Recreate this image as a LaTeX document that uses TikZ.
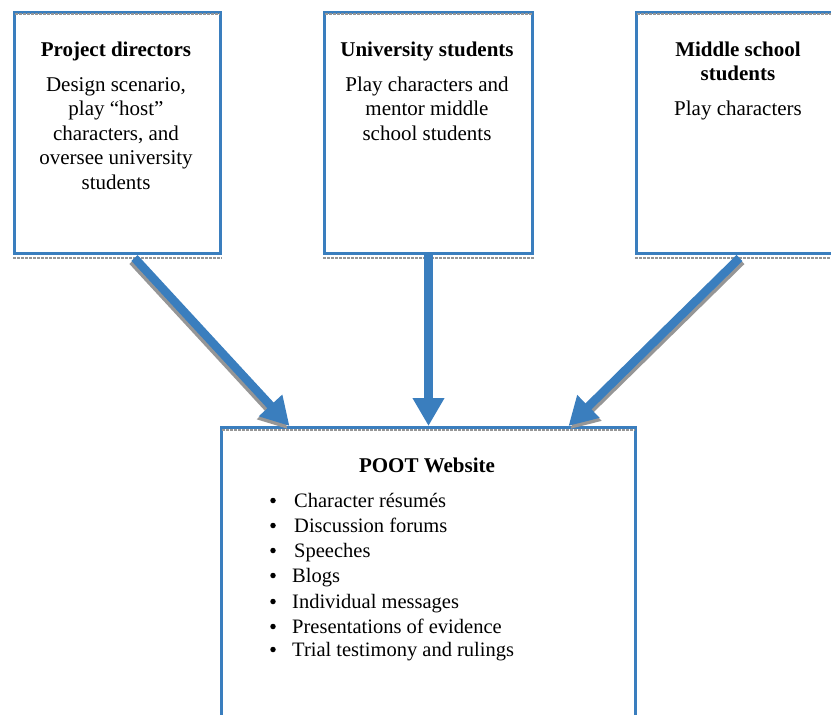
\documentclass[tikz,border=0pt]{standalone}
\usepackage{fontspec}
\setmainfont{Liberation Serif}
\usetikzlibrary{arrows.meta,calc}
\definecolor{boxblue}{RGB}{58,126,190}
\definecolor{shade}{RGB}{150,150,150}
\begin{document}
\begin{tikzpicture}[x=1pt,y=-1pt,
  box/.style={draw=boxblue, fill=white, line width=3pt, rectangle, inner sep=0pt, anchor=north west},
  dashline/.style={draw=shade, line width=2.5pt, dash pattern=on 3pt off 1pt},
  arr/.style={draw=boxblue, line width=8.5pt, -{Triangle[width=30pt,length=28pt]}},
  arrshadow/.style={draw=shade, line width=8.5pt, -{Triangle[width=30pt,length=28pt]}},
  txt/.style={font=\fontsize{21}{24}\selectfont, inner sep=0pt, anchor=base},
  ttl/.style={font=\fontsize{21}{24}\selectfont\bfseries, inner sep=0pt, anchor=base},
  item/.style={font=\fontsize{20.5}{24}\selectfont, inner sep=0pt, anchor=base west},
  bul/.style={circle, fill=black, inner sep=0pt, minimum size=5.5pt}
]
\useasboundingbox (0,0) rectangle (831,715);
\clip (0,0) rectangle (831,715);

% boxes
\node[box, minimum width=206pt, minimum height=241pt] (pd) at (13,11) {};
\node[box, minimum width=208pt, minimum height=241pt] (us) at (323,11) {};
\node[box, minimum width=206pt, minimum height=241pt] (ms) at (635,11) {};
\node[box, minimum width=414pt, minimum height=310pt] (web) at (220,426) {};

% shadow dashes
\foreach \b in {pd,us,ms}{
  \draw[dashline] ($(\b.north west)+(2,3.2)$) -- ($(\b.north east)+(-2,3.2)$);
  \draw[dashline] ($(\b.south west)+(0,3.2)$) -- ($(\b.south east)+(0,3.2)$);
}
\draw[dashline] ($(web.north west)+(2,4)$) -- ($(web.north east)+(-2,4)$);

% arrows
\coordinate (a1s) at ($(pd.south)+(17,3)$);
\coordinate (a1e) at ($(web.north)+(-139,0)$);
\coordinate (a2s) at ($(us.south)+(0,0)$);
\coordinate (a2e) at ($(web.north)+(0,0)$);
\coordinate (a3s) at ($(ms.south)+(0,3)$);
\coordinate (a3e) at ($(web.north)+(140,0)$);
\draw[arrshadow] ($(a1s)+(-2,3)$) -- ($(a1e)+(-2,3)$);
\draw[arrshadow] ($(a3s)+(2,3)$) -- ($(a3e)+(2,3)$);
\draw[arr] (a1s) -- (a1e);
\draw[arr] (a2s) -- (a2e);
\draw[arr] (a3s) -- (a3e);

% Project directors
\node[ttl] (pdt) at (116,56) {Project directors};
\node[txt] (pd1) at (116,91) {Design scenario,};
\node[txt] (pd2) at (116,115.5) {play “host”};
\node[txt] (pd3) at (116,140) {characters, and};
\node[txt] (pd4) at (116,164.5) {oversee university};
\node[txt] (pd5) at (116,189) {students};

% University students
\node[ttl] (ust) at (427,56) {University students};
\node[txt] (us1) at (427,91) {Play characters and};
\node[txt] (us2) at (427,115.5) {mentor middle};
\node[txt] (us3) at (427,140) {school students};

% Middle school students
\node[ttl] (mst1) at (738,56) {Middle school};
\node[ttl] (mst2) at (738,80.5) {students};
\node[txt] (ms1) at (738,115.5) {Play characters};

% POOT Website
\node[ttl] (wt) at (427,472) {POOT Website};
\foreach \y/\x/\t [count=\i] in {507/294/Character résumés, 532/294/Discussion forums, 557/294/Speeches, 582/292/Blogs, 608/292/Individual messages, 633/292/Presentations of evidence, 656/292/Trial testimony and rulings}{
  \node[bul] (b\i) at (273,\y-6.5) {};
  \node[item] (l\i) at (\x,\y) {\t};
}
\end{tikzpicture}
\end{document}
